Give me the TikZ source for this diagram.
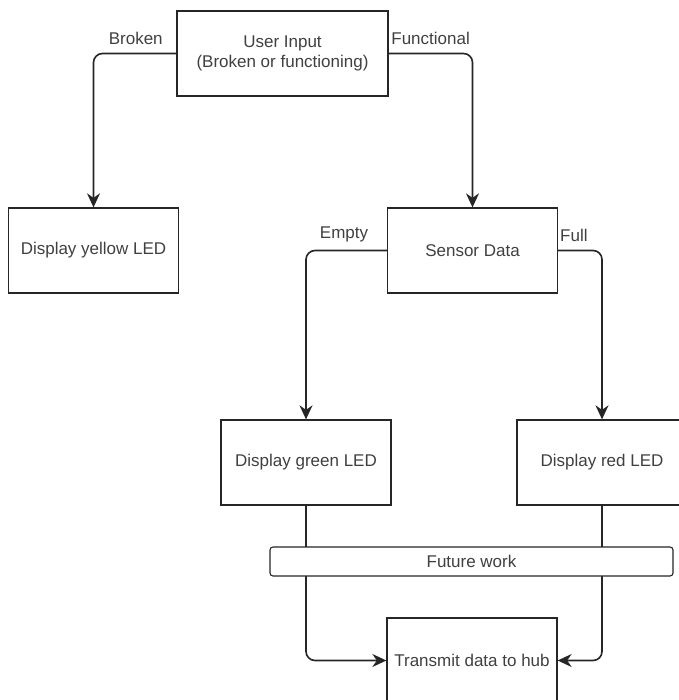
\documentclass[tikz,border=0pt]{standalone}
\usepackage{fontspec}
\setmainfont{Liberation Sans}
\usetikzlibrary{arrows.meta}
\tikzstyle{block} = [rectangle, draw=black!85, line width=1.3pt, minimum width=170pt, minimum height=85pt, align=center, text=black!75, inner sep=0pt]
\tikzstyle{bar} = [rectangle, rounded corners=3pt, draw=black!85, line width=1.1pt, fill=white, minimum width=403pt, minimum height=29pt, text centered, text=black!75, inner sep=0pt]
\tikzstyle{lbl} = [text=black!75, inner sep=2pt]
\tikzset{flow/.style={line width=1.6pt, draw=black!85, rounded corners=9pt, -{Stealth[length=14pt, width=13pt, inset=4.5pt]}}}

\begin{document}
\begin{tikzpicture}[x=1pt, y=-1pt, font=\fontsize{17}{20.5}\selectfont]
            \useasboundingbox (0,0) rectangle (678,700);
            \node [block, minimum width=211pt] at (282.5,53.5) (user) {User Input\\(Broken or functioning)};
            \node [block] at (93.5,250.5) (yellow) {Display yellow LED};
            \node [block] at (472.5,250.5) (sensor) {Sensor Data};
            \node [block] at (306,462.5) (green) {Display green LED};
            \node [block] at (602,462.5) (red) {Display red LED};
            \node [block] at (472,660.5) (hub) {Transmit data to hub};
            \draw [flow] (user.west) -| node[lbl, pos=0.245, above, yshift=6pt] {Broken} (yellow.north);
            \draw [flow] (user.east) -| node[lbl, pos=0.25, above, yshift=6pt] {Functional} (sensor.north);
            \draw [flow] (sensor.west) -| node[lbl, pos=0.265, above, yshift=6pt] {Empty} (green.north);
            \draw [flow] (sensor.east) -| node[lbl, pos=0.18, above, yshift=6pt] {Full} (red.north);
            \draw [flow] (green.south) |- (hub.west);
            \draw [flow] (red.south) |- (hub.east);
            \node [bar] at (471.5,561.5) (future) {Future work};
\end{tikzpicture}
\end{document}
